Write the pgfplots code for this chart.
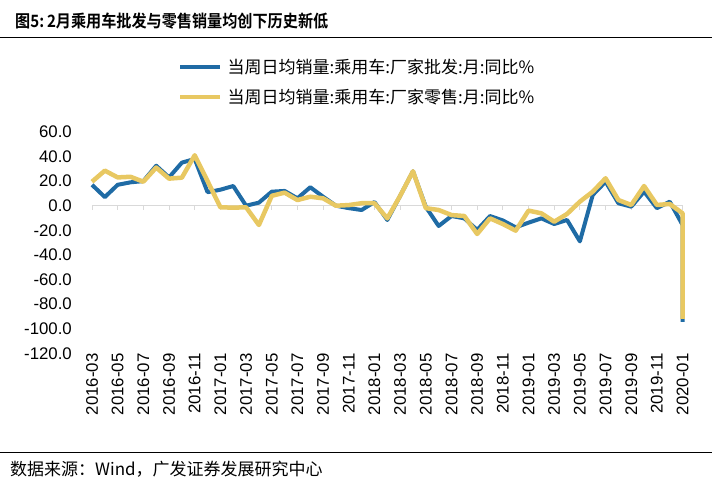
\documentclass[border=0pt]{standalone}
\usepackage{fontspec}
\setmainfont{Liberation Sans}
\newfontfamily\cjk{Noto Sans CJK SC}
\newfontfamily\cjktitle[FakeStretch=0.89]{Noto Sans CJK SC Bold}
\usepackage{pgfplots}
\pgfplotsset{compat=1.18}
\definecolor{cblue}{HTML}{1F6BA5}
\definecolor{cyel}{HTML}{E8C862}
\definecolor{cgrid}{HTML}{D9D9D9}
\begin{document}
\begin{tikzpicture}
\path[use as bounding box] (0bp,0bp) rectangle (712bp,487bp);
\draw[line width=1.5bp] (0bp,449.7bp) -- (712bp,449.7bp);
\draw[line width=1.5bp] (0bp,34.7bp) -- (712bp,34.7bp);
\node[anchor=base west, inner sep=0pt] at (15bp,459.5bp) {\cjktitle\fontsize{17bp}{20bp}\selectfont 图5:\,2月乘用车批发与零售销量均创下历史新低};
\node[anchor=base west, inner sep=0pt] at (10bp,12bp) {\cjk\fontsize{17bp}{20bp}\selectfont 数据来源：Wind，广发证券发展研究中心};
\begin{axis}[
  at={(92bp,133.7bp)}, anchor=south west,
  scale only axis, width=590.6bp, height=221.4bp,
  xmin=0, xmax=46, ymin=-120, ymax=60,
  clip=false,
  axis line style={draw=none},
  major tick length=0pt,
  tick style={draw=none},
  ytick={-120,-100,-80,-60,-40,-20,0,20,40,60},
  yticklabels={-120.0,-100.0,-80.0,-60.0,-40.0,-20.0,0.0,20.0,40.0,60.0},
  xtick={0,2,...,46},
  xticklabels={2016-03,2016-05,2016-07,2016-09,2016-11,2017-01,2017-03,2017-05,2017-07,2017-09,2017-11,2018-01,2018-03,2018-05,2018-07,2018-09,2018-11,2019-01,2019-03,2019-05,2019-07,2019-09,2019-11,2020-01},
  ticklabel style={font=\fontsize{16.8bp}{19bp}\selectfont, inner sep=0pt},
  yticklabel style={anchor=east, xshift=-20bp},
  xticklabel style={rotate=90, anchor=east},
  legend style={at={(axis description cs:0.1456,1.3315)}, anchor=north west, draw=none, fill=none,
    font=\cjk\fontsize{17bp}{20bp}\selectfont, inner sep=0pt, row sep=14.5bp,
    nodes={inner sep=0pt}, column sep=5bp},
  legend cell align=left,
  legend image code/.code={\draw[#1] (0bp,0bp) -- (40bp,0bp);},
]
\addplot[cgrid, line width=1bp, forget plot] coordinates {(0,0) (46,0)};
\addplot[cgrid, line width=1bp, ycomb, forget plot] coordinates {
(0,-3.5) (2,-3.5) (4,-3.5) (6,-3.5) (8,-3.5) (10,-3.5) (12,-3.5) (14,-3.5) (16,-3.5) (18,-3.5) (20,-3.5) (22,-3.5)
(24,-3.5) (26,-3.5) (28,-3.5) (30,-3.5) (32,-3.5) (34,-3.5) (36,-3.5) (38,-3.5) (40,-3.5) (42,-3.5) (44,-3.5) (46,-3.5)};
\addplot[cblue, line width=4bp, line join=round, no marks] coordinates {
(0,17) (1,7) (2,17) (3,19) (4,20) (5,32.5) (6,23) (7,35) (8,38) (9,11) (10,13) (11,16)
(12,0) (13,2.5) (14,11.4) (15,12) (16,6) (17,15) (18,7.3) (19,0) (20,-2) (21,-3.5) (22,3) (23,-11.6)
(24,8) (25,28) (26,-1) (27,-16.5) (28,-8.4) (29,-10.3) (30,-19.7) (31,-8.4) (32,-12) (33,-17.6) (34,-13.8) (35,-10.3)
(36,-14.9) (37,-11.6) (38,-29) (39,8.7) (40,19.5) (41,2) (42,-0.8) (43,11.4) (44,-2) (45,3.3) (46,-15.7) (46,-94.5)};
\addlegendentry{当周日均销量:乘用车:厂家批发:月:同比\%}
\addplot[cyel, line width=4.5bp, line join=round, no marks] coordinates {
(0,19.5) (1,28.5) (2,23) (3,23.5) (4,19.5) (5,31) (6,22) (7,22.8) (8,41) (9,20) (10,-1.3) (11,-1.6)
(12,-1.3) (13,-15.7) (14,8) (15,10.6) (16,4.6) (17,7.3) (18,6) (19,0) (20,0.5) (21,2) (22,2) (23,-10.3)
(24,8) (25,28) (26,-2) (27,-3.5) (28,-7.6) (29,-8.4) (30,-23) (31,-10.3) (32,-14.9) (33,-20.3) (34,-4) (35,-6.2)
(36,-13) (37,-6.7) (38,3.3) (39,11.4) (40,22.3) (41,4.6) (42,0.6) (43,16) (44,0.6) (45,1.4) (46,-6.2) (46,-92)};
\addlegendentry{当周日均销量:乘用车:厂家零售:月:同比\%}
\end{axis}
\end{tikzpicture}
\end{document}
